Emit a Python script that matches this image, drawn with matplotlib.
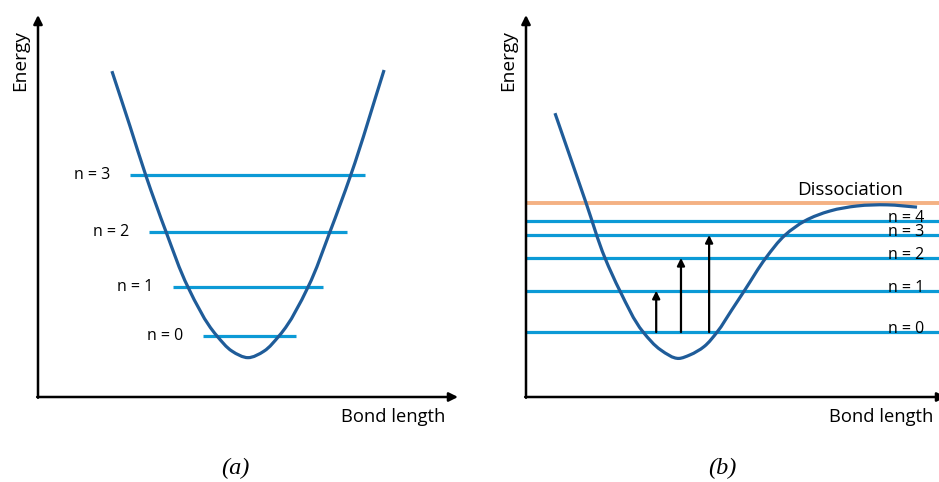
import matplotlib
matplotlib.use("Agg")
import numpy as np
import matplotlib.pyplot as plt
from matplotlib.path import Path
from matplotlib.patches import PathPatch

# Values (axis units: 0..10 along each drawn axis)

# (a) harmonic potential
harm_x = [1.76, 2.19, 2.57, 3.05, 3.57, 4.26, 4.62, 5.00, 5.38, 5.74, 6.43,
          6.95, 7.44, 8.24]
harm_y = [8.53, 7.09, 5.79, 4.32, 2.88, 1.60, 1.20, 1.03, 1.20, 1.60, 2.88,
          4.32, 5.79, 8.56]
harm_levels = [1.60, 2.88, 4.32, 5.81]
harm_left = [3.93, 3.21, 2.64, 2.19]
harm_right = [6.14, 6.79, 7.36, 7.79]
harm_labels = ["n = 0", "n = 1", "n = 2", "n = 3"]

# (b) anharmonic potential
morse_x = [0.69, 1.43, 1.88, 2.24, 2.79, 3.21, 3.64, 3.90, 4.24, 4.55, 4.90,
           5.21, 5.71, 6.17, 6.64, 7.24, 7.88, 8.60, 9.31]
morse_y = [7.43, 5.08, 3.64, 2.77, 1.70, 1.23, 1.01, 1.10, 1.32, 1.70, 2.28,
           2.80, 3.64, 4.24, 4.61, 4.87, 5.00, 5.03, 4.97]
morse_levels = [1.70, 2.78, 3.64, 4.24, 4.61]
morse_labels = ["n = 0", "n = 1", "n = 2", "n = 3", "n = 4"]
dissociation = 5.08
arrow_x = [3.10, 3.69, 4.36]
arrow_to = [1, 2, 3]

curve_color = "#1f5c99"
level_color = "#0c9ad6"
diss_color = "#f4b183"
label_font = ["Open Sans", "DejaVu Sans"]

fig = plt.figure(figsize=(9.39, 4.82), dpi=100)
W, H = 939, 482


def smooth_curve(ax, xs, ys):
    # smooth bezier path through the read points
    p = np.column_stack([xs, ys])
    seg = np.hypot(np.diff(p[:, 0]) * 42, np.diff(p[:, 1]) * 38.2)
    t = np.concatenate([[0], np.cumsum(seg)])
    m = np.gradient(p, t, axis=0)
    verts = [p[0]]
    codes = [Path.MOVETO]
    for i in range(len(p) - 1):
        h = t[i + 1] - t[i]
        verts += [p[i] + m[i] * h / 3, p[i + 1] - m[i + 1] * h / 3, p[i + 1]]
        codes += [Path.CURVE4] * 3
    patch = PathPatch(Path(verts, codes), fill=False, edgecolor=curve_color,
                      lw=2.3, capstyle="butt", zorder=3)
    ax.add_patch(patch)


def make_axes(x0):
    ax = fig.add_axes([x0 / W, 85 / H, 420 / W, 382 / H])
    ax.set_xlim(0, 10)
    ax.set_ylim(0, 10)
    ax.axis("off")
    # axis arrows
    arrow = dict(arrowstyle="-|>", lw=1.8, color="black", mutation_scale=13,
                 shrinkA=0, shrinkB=0)
    ax.annotate("", xy=(0, 10), xytext=(0, -0.02), arrowprops=arrow,
                annotation_clip=False)
    ax.annotate("", xy=(10, 0), xytext=(-0.02, 0), arrowprops=arrow,
                annotation_clip=False)
    ax.text(-0.42, 8.82, "Energy", rotation=90, ha="center", va="center",
            fontsize=13.8, family=label_font)
    ax.text(8.45, -0.52, "Bond length", ha="center", va="center",
            fontsize=13.2, family=label_font)
    return ax


# (a)
ax1 = make_axes(38)
ax1.hlines(harm_levels, harm_left, harm_right, color=level_color, lw=2.3,
           zorder=2)
smooth_curve(ax1, harm_x, harm_y)
for lv, xl, lab in zip(harm_levels, harm_left, harm_labels):
    ax1.text(xl - 0.47, lv, lab, ha="right", va="center", fontsize=11.5,
             family=label_font)
ax1.text(4.69, -1.86, "(a)", ha="center", va="center", fontsize=17.5,
         family="Liberation Serif", style="italic")

# (b)
ax2 = make_axes(526)
ax2.hlines(morse_levels, 0, 10, color=level_color, lw=2.3, zorder=2,
           clip_on=False)
ax2.hlines(dissociation, 0, 10, color=diss_color, lw=2.8, zorder=2,
           clip_on=False)
smooth_curve(ax2, morse_x, morse_y)
for lv, lab in zip(morse_levels, morse_labels):
    ax2.text(8.62, lv - 0.03, lab, ha="left", va="baseline", fontsize=11.5,
             family=label_font)
ax2.text(6.45, dissociation + 0.22, "Dissociation", ha="left", va="baseline",
         fontsize=13.5, family=label_font)
for xa, n in zip(arrow_x, arrow_to):
    ax2.annotate("", xy=(xa, morse_levels[n]), xytext=(xa, morse_levels[0]),
                 arrowprops=dict(arrowstyle="-|>", lw=1.6, color="black",
                                 mutation_scale=11, shrinkA=0, shrinkB=0),
                 zorder=4)
ax2.text(4.67, -1.86, "(b)", ha="center", va="center", fontsize=17.5,
         family="Liberation Serif", style="italic")

fig.savefig("out.png", dpi=100)
